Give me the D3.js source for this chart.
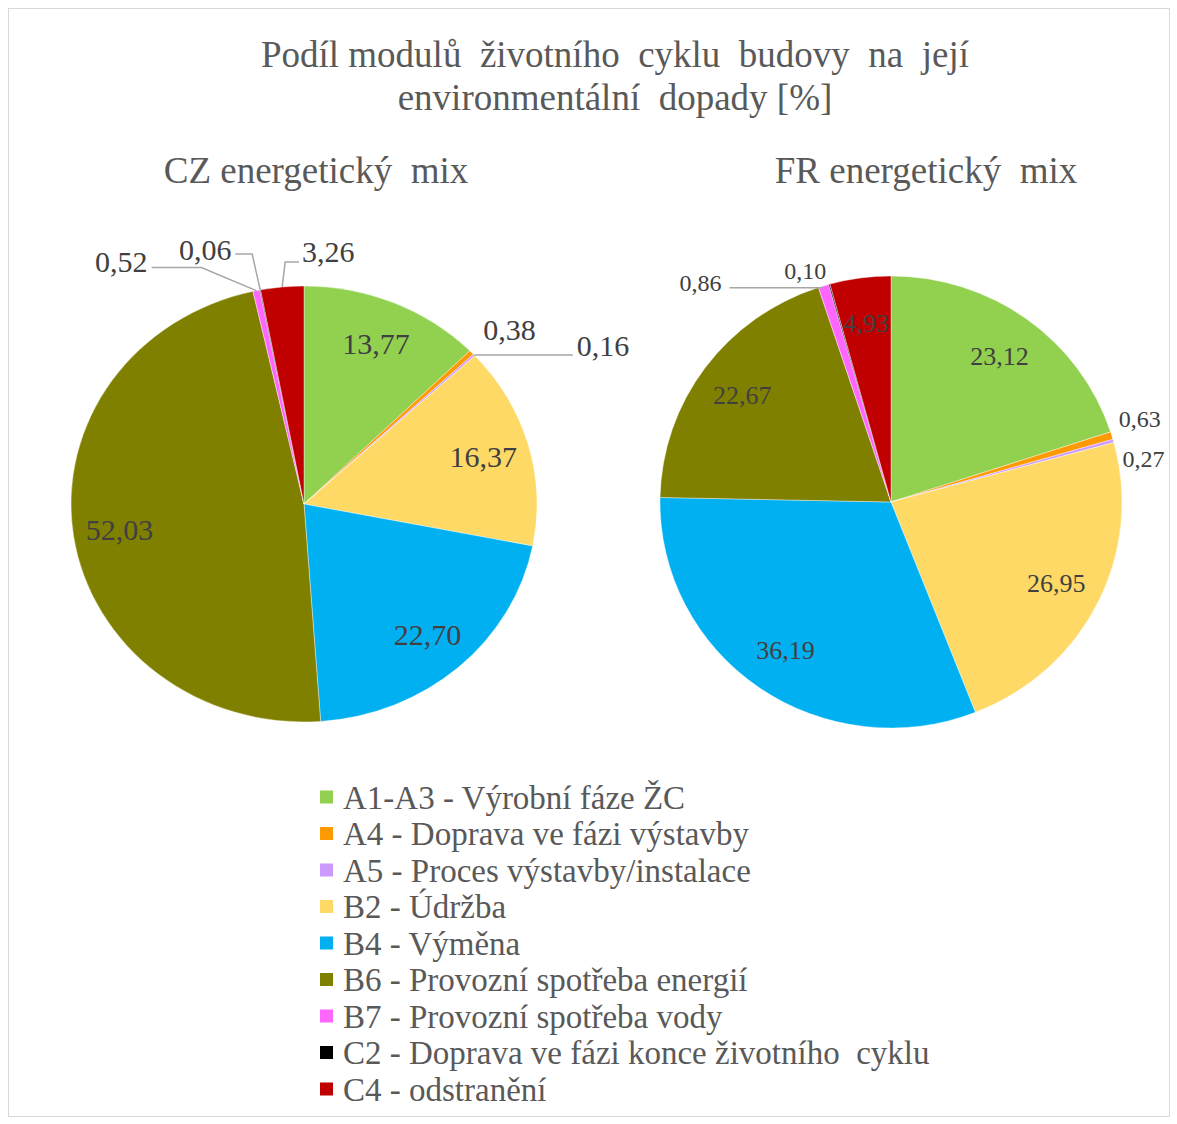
<!DOCTYPE html>
<html><head><meta charset="utf-8">
<script src="https://cdn.jsdelivr.net/npm/d3@7"></script>
<style>body{margin:0;background:#fff}svg{display:block}text{font-family:"Liberation Serif","Times New Roman",serif;white-space:pre}</style>
</head><body><svg id="c" width="1177" height="1124"></svg>
<script>
const categories = ["A1-A3 - Výrobní fáze ŽC","A4 - Doprava ve fázi výstavby","A5 - Proces výstavby/instalace","B2 - Údržba","B4 - Výměna","B6 - Provozní spotřeba energií","B7 - Provozní spotřeba vody","C2 - Doprava ve fázi konce životního  cyklu","C4 - odstranění"];
const colors = ["#92d050","#ff9900","#cc99ff","#ffd966","#00b0f0","#808000","#ff66ff","#000000","#c00000"];
const czValues = [13.77,0.38,0.16,16.37,22.70,52.03,0.52,0.06,3.26];
const frValues = [23.12,0.63,0.27,26.95,36.19,22.67,0.86,0.10,4.93];
const titleLines = ["Podíl modulů  životního  cyklu  budovy  na  její","environmentální  dopady [%]"];
const subTitles = ["CZ energetický  mix","FR energetický  mix"];

const svg = d3.select("#c");
svg.append("rect").attr("x",8.5).attr("y",8.5).attr("width",1161).attr("height",1108)
  .attr("fill","#fff").attr("stroke","#d9d9d9");

svg.selectAll("text.title").data(titleLines).join("text").attr("class","title")
  .attr("x",615).attr("y",(d,i)=>67+i*43).attr("text-anchor","middle")
  .attr("font-size",37).attr("fill","#595959").text(d=>d);

const fmt = v => d3.format(".2f")(v).replace(".",",");

// pies config (layout only)
const pies = [
  {values: czValues, cx:304, cy:504, rx:233, ry:218, tx:316, inFont:30, outFont:30,
   outside: {1:{dx:38,dy:-23}, 2:{dx:129,dy:-10,leader:"h"}, 6:{dx:-135,dy:-29,leader:"l"}, 7:{dx:-55,dy:-40,leader:"u"}, 8:{dx:46,dy:-35,leader:"r"}}},
  {values: frValues, cx:891, cy:502, rx:231, ry:226, tx:926, inFont:26, outFont:24,
   outside: {1:{dx:28,dy:-17}, 2:{dx:30,dy:18}, 6:{dx:-123,dy:-3,leader:"h2"}, 7:{dx:-24,dy:-14}}}
];

pies.forEach((p,pi)=>{
  svg.append("text").attr("x",p.tx).attr("y",183).attr("text-anchor","middle")
    .attr("font-size",37).attr("fill","#595959").text(subTitles[pi]);
  const arcs = d3.pie().sort(null).value(d=>d)(p.values);
  const sy = p.ry/p.rx;
  const g = svg.append("g").attr("transform",`translate(${p.cx},${p.cy}) scale(1,${sy})`);
  const arc = d3.arc().innerRadius(0).outerRadius(p.rx);
  g.selectAll("path").data(arcs).join("path").attr("d",arc)
    .attr("fill",(d,i)=>colors[i]).attr("stroke","#fff").attr("stroke-width",0.4);
  const pt = (a,r)=>[p.cx+Math.sin(a)*p.rx*r, p.cy-Math.cos(a)*p.ry*r];
  const lg = svg.append("g");
  arcs.forEach((d,i)=>{
    const mid=(d.startAngle+d.endAngle)/2;
    const o = p.outside[i];
    if(!o){
      const [x,y]=pt(mid,0.8);
      lg.append("text").attr("x",x).attr("y",y).attr("dy","0.35em").attr("text-anchor","middle")
        .attr("font-size",p.inFont).attr("fill","#404040").text(fmt(d.value));
    } else {
      const [ex,ey]=pt(mid,1.0);
      const lx=ex+o.dx, ly=ey+o.dy;
      const t = lg.append("text").attr("x",lx).attr("y",ly).attr("dy","0.35em").attr("text-anchor","middle")
        .attr("font-size",p.outFont).attr("fill","#404040").text(fmt(d.value));
      const w = t.node().getComputedTextLength();
      let pts=null;
      if(o.leader==="h") pts=[[ex,ey],[lx-w/2-4,ey]];
      if(o.leader==="h2") pts=[[ex,ey+2],[lx+w/2+8,ey+2]];
      if(o.leader==="l") pts=[[ex,ey],[ex-55,ly+6],[lx+w/2+4,ly+6]];
      if(o.leader==="u") pts=[[ex,ey],[ex-8,ly+4],[lx+w/2+4,ly+4]];
      if(o.leader==="r") pts=[[ex,ey],[ex+3,ly+10],[lx-w/2-3,ly+10]];
      if(pts) lg.append("path").attr("d",d3.line()(pts)).attr("fill","none")
        .attr("stroke","#a6a6a6").attr("stroke-width",1.5);
    }
  });
});

const leg = svg.append("g");
const rowY = d3.scalePoint().domain(d3.range(categories.length)).range([797,1089]);
categories.forEach((c,i)=>{
  const y=rowY(i);
  leg.append("rect").attr("x",320).attr("y",y-6.5).attr("width",13).attr("height",13).attr("fill",colors[i]);
  leg.append("text").attr("x",343).attr("y",y).attr("dy","0.35em").attr("font-size",33)
    .attr("fill","#595959").text(c);
});
</script></body></html>
